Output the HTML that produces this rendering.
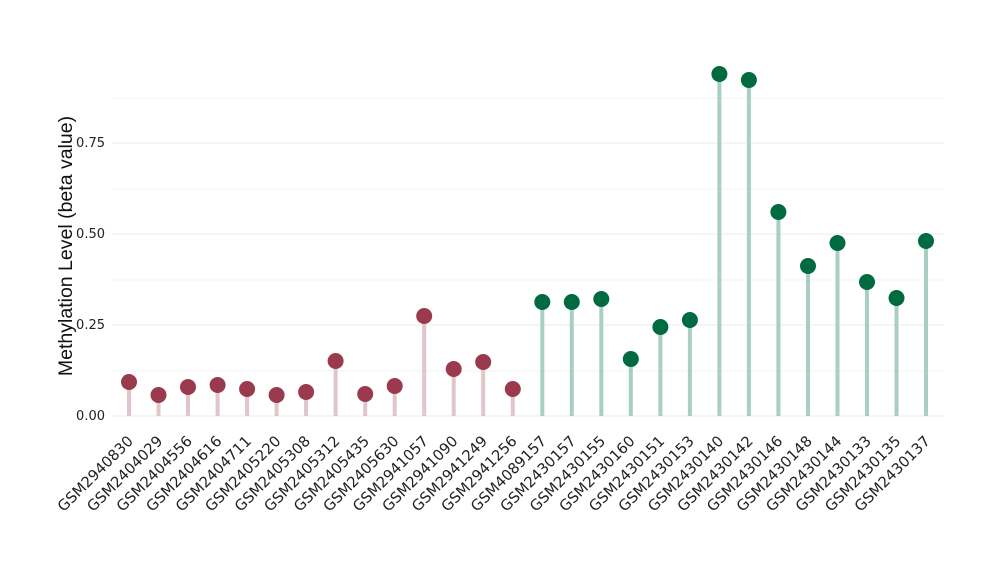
<!DOCTYPE html>
<html><head><meta charset="utf-8"><style>body{margin:0;background:#fff}svg{display:block}text{font-family:"Liberation Sans",sans-serif}.dj{font-family:"DejaVu Sans",sans-serif}</style></head>
<body>
<svg width="1000" height="580" viewBox="0 0 1000 580" xmlns="http://www.w3.org/2000/svg">
<g stroke="#ebebeb" stroke-width="1">
<line x1="112" x2="944" y1="98" y2="98" stroke="#f3f3f3"/>
<line x1="112" x2="944" y1="143" y2="143"/>
<line x1="112" x2="944" y1="189" y2="189" stroke="#f3f3f3"/>
<line x1="112" x2="944" y1="234" y2="234"/>
<line x1="112" x2="944" y1="280" y2="280" stroke="#f3f3f3"/>
<line x1="112" x2="944" y1="325" y2="325"/>
<line x1="112" x2="944" y1="371" y2="371" stroke="#f3f3f3"/>
<line x1="112" x2="944" y1="416" y2="416"/>
</g>
<g font-size="13" fill="#222" text-anchor="end" class="dj">
<text class="dj" x="105" y="147">0.75</text><text class="dj" x="105" y="238">0.50</text><text class="dj" x="105" y="329">0.25</text><text class="dj" x="105" y="420">0.00</text>
</g>
<text transform="translate(72,246) rotate(-90)" text-anchor="middle" font-size="19.5" fill="#111">Methylation Level (beta value)</text>
<g stroke-width="4" stroke="#e0c5cb">
<line x1="129" x2="129" y1="416" y2="382"/>
<line x1="158.5" x2="158.5" y1="416" y2="395"/>
<line x1="188" x2="188" y1="416" y2="387"/>
<line x1="217.6" x2="217.6" y1="416" y2="385"/>
<line x1="247.1" x2="247.1" y1="416" y2="389"/>
<line x1="276.6" x2="276.6" y1="416" y2="395"/>
<line x1="306.1" x2="306.1" y1="416" y2="392"/>
<line x1="335.6" x2="335.6" y1="416" y2="361"/>
<line x1="365.2" x2="365.2" y1="416" y2="394"/>
<line x1="394.7" x2="394.7" y1="416" y2="386"/>
<line x1="424.2" x2="424.2" y1="416" y2="316"/>
<line x1="453.7" x2="453.7" y1="416" y2="369"/>
<line x1="483.2" x2="483.2" y1="416" y2="362"/>
<line x1="512.8" x2="512.8" y1="416" y2="389"/>
</g>
<g stroke-width="4" stroke="#a9cfc3">
<line x1="542.3" x2="542.3" y1="416" y2="302"/>
<line x1="571.8" x2="571.8" y1="416" y2="302"/>
<line x1="601.3" x2="601.3" y1="416" y2="299"/>
<line x1="630.8" x2="630.8" y1="416" y2="359"/>
<line x1="660.4" x2="660.4" y1="416" y2="327"/>
<line x1="689.9" x2="689.9" y1="416" y2="320"/>
<line x1="719.4" x2="719.4" y1="416" y2="74"/>
<line x1="748.9" x2="748.9" y1="416" y2="80"/>
<line x1="778.4" x2="778.4" y1="416" y2="212"/>
<line x1="808" x2="808" y1="416" y2="266"/>
<line x1="837.5" x2="837.5" y1="416" y2="243"/>
<line x1="867" x2="867" y1="416" y2="282"/>
<line x1="896.5" x2="896.5" y1="416" y2="298"/>
<line x1="926" x2="926" y1="416" y2="241"/>
</g>
<g fill="#9b3a4d">
<circle cx="129" cy="382" r="8"/><circle cx="158.5" cy="395" r="8"/><circle cx="188" cy="387" r="8"/><circle cx="217.6" cy="385" r="8"/><circle cx="247.1" cy="389" r="8"/><circle cx="276.6" cy="395" r="8"/><circle cx="306.1" cy="392" r="8"/><circle cx="335.6" cy="361" r="8"/><circle cx="365.2" cy="394" r="8"/><circle cx="394.7" cy="386" r="8"/><circle cx="424.2" cy="316" r="8"/><circle cx="453.7" cy="369" r="8"/><circle cx="483.2" cy="362" r="8"/><circle cx="512.8" cy="389" r="8"/>
</g>
<g fill="#006a41">
<circle cx="542.3" cy="302" r="8"/><circle cx="571.8" cy="302" r="8"/><circle cx="601.3" cy="299" r="8"/><circle cx="630.8" cy="359" r="8"/><circle cx="660.4" cy="327" r="8"/><circle cx="689.9" cy="320" r="8"/><circle cx="719.4" cy="74" r="8"/><circle cx="748.9" cy="80" r="8"/><circle cx="778.4" cy="212" r="8"/><circle cx="808" cy="266" r="8"/><circle cx="837.5" cy="243" r="8"/><circle cx="867" cy="282" r="8"/><circle cx="896.5" cy="298" r="8"/><circle cx="926" cy="241" r="8"/>
</g>
<g font-size="14.8" fill="#222" text-anchor="end">
<text class="dj" transform="translate(134,442) rotate(-45)">GSM2940830</text>
<text class="dj" transform="translate(163.5,442) rotate(-45)">GSM2404029</text>
<text class="dj" transform="translate(193,442) rotate(-45)">GSM2404556</text>
<text class="dj" transform="translate(222.6,442) rotate(-45)">GSM2404616</text>
<text class="dj" transform="translate(252.1,442) rotate(-45)">GSM2404711</text>
<text class="dj" transform="translate(281.6,442) rotate(-45)">GSM2405220</text>
<text class="dj" transform="translate(311.1,442) rotate(-45)">GSM2405308</text>
<text class="dj" transform="translate(340.6,442) rotate(-45)">GSM2405312</text>
<text class="dj" transform="translate(370.2,442) rotate(-45)">GSM2405435</text>
<text class="dj" transform="translate(399.7,442) rotate(-45)">GSM2405630</text>
<text class="dj" transform="translate(429.2,442) rotate(-45)">GSM2941057</text>
<text class="dj" transform="translate(458.7,442) rotate(-45)">GSM2941090</text>
<text class="dj" transform="translate(488.2,442) rotate(-45)">GSM2941249</text>
<text class="dj" transform="translate(517.8,442) rotate(-45)">GSM2941256</text>
<text class="dj" transform="translate(547.3,442) rotate(-45)">GSM4089157</text>
<text class="dj" transform="translate(576.8,442) rotate(-45)">GSM2430157</text>
<text class="dj" transform="translate(606.3,442) rotate(-45)">GSM2430155</text>
<text class="dj" transform="translate(635.8,442) rotate(-45)">GSM2430160</text>
<text class="dj" transform="translate(665.4,442) rotate(-45)">GSM2430151</text>
<text class="dj" transform="translate(694.9,442) rotate(-45)">GSM2430153</text>
<text class="dj" transform="translate(724.4,442) rotate(-45)">GSM2430140</text>
<text class="dj" transform="translate(753.9,442) rotate(-45)">GSM2430142</text>
<text class="dj" transform="translate(783.4,442) rotate(-45)">GSM2430146</text>
<text class="dj" transform="translate(813,442) rotate(-45)">GSM2430148</text>
<text class="dj" transform="translate(842.5,442) rotate(-45)">GSM2430144</text>
<text class="dj" transform="translate(872,442) rotate(-45)">GSM2430133</text>
<text class="dj" transform="translate(901.5,442) rotate(-45)">GSM2430135</text>
<text class="dj" transform="translate(931,442) rotate(-45)">GSM2430137</text>
</g>
</svg>
</body></html>
